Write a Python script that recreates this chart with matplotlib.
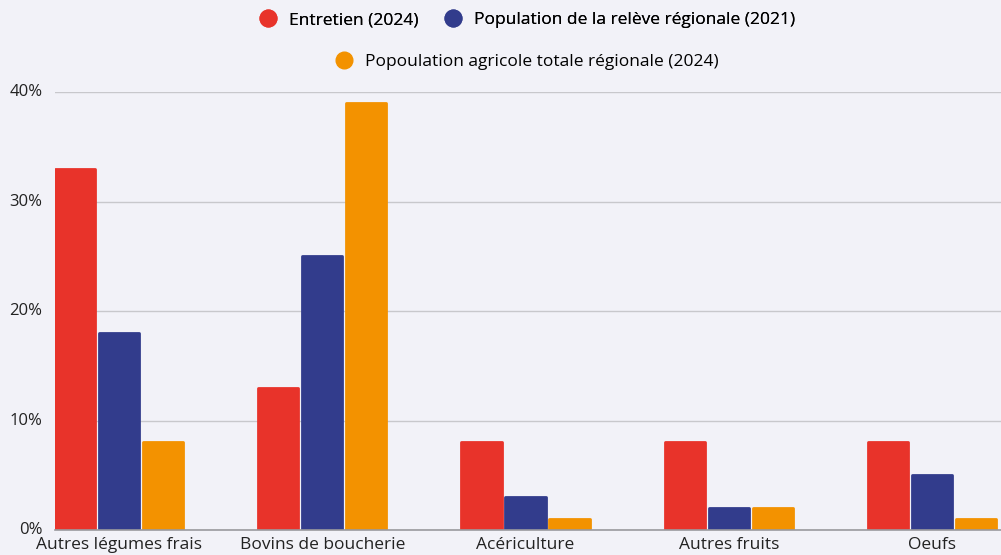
import numpy as np
import matplotlib.pyplot as plt
from matplotlib.lines import Line2D
from matplotlib.ticker import FuncFormatter

categories = ["Autres légumes frais", "Bovins de boucherie", "Acériculture", "Autres fruits", "Oeufs"]
entretien = [33, 13, 8, 8, 8]
releve = [18, 25, 3, 2, 5]
agricole = [8, 39, 1, 2, 1]
series_names = ["Entretien (2024)", "Population de la relève régionale (2021)",
                "Popoulation agricole totale régionale (2024)"]
colors = ["#E8332A", "#323C8C", "#F39200"]
bg = "#F2F2F8"

plt.rcParams['font.family'] = ['Open Sans', 'DejaVu Sans']

fig = plt.figure(figsize=(10.01, 5.55), dpi=100, facecolor=bg)
ax = fig.add_axes([0.055, 0.045, 0.945, 0.789], facecolor=bg)

x = np.arange(len(categories))
pitch = 0.2165
width = 0.198
for i, (vals, c) in enumerate(zip([entretien, releve, agricole], colors)):
    ax.bar(x + (i - 1) * pitch, vals, width, color=c, edgecolor=c,
           linewidth=2, joinstyle='round', zorder=3)

ax.set_ylim(0, 40)
ax.set_xlim(-0.315, 4.339)
ax.set_yticks([0, 10, 20, 30, 40])
ax.yaxis.set_major_formatter(FuncFormatter(lambda v, p: f"{v:.0f}%"))
ax.set_xticks(x)
ax.set_xticklabels(categories)
ax.tick_params(axis='both', length=0, labelsize=12.5, colors="#222222")
ax.tick_params(axis='y', pad=9, labelsize=12)
ax.tick_params(axis='x', pad=5)
for lab in ax.get_yticklabels():
    lab.set_verticalalignment('center')
ax.grid(axis='y', color="#C8C8CC", linewidth=1, zorder=0)
for s in ['top', 'right', 'left']:
    ax.spines[s].set_visible(False)
ax.spines['bottom'].set_color("#9A9A9E")
ax.spines['bottom'].set_linewidth(1.2)
ax.spines['bottom'].set_zorder(4)

def handle(c):
    return Line2D([], [], marker='o', linestyle='none', markersize=12,
                  markerfacecolor=c, markeredgecolor=c)

leg1 = fig.legend([handle(colors[0]), handle(colors[1])], series_names[:2],
                  loc='center', bbox_to_anchor=(0.522, 0.964), ncol=2, frameon=False,
                  fontsize=12.5, handletextpad=0.2, columnspacing=1.0)
fig.add_artist(leg1)
fig.legend([handle(colors[2])], series_names[2:], loc='center',
           bbox_to_anchor=(0.522, 0.888), frameon=False, fontsize=12.5,
           handletextpad=0.2)

fig.savefig("out.png", dpi=100, facecolor=bg)
